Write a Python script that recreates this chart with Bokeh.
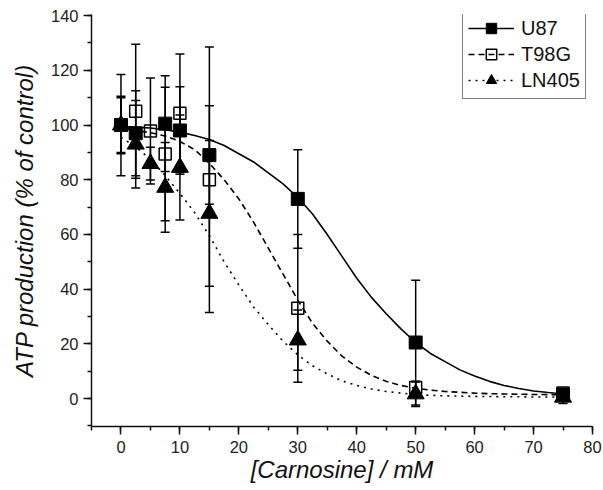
from bokeh.plotting import figure
from bokeh.models import (Range1d, SingleIntervalTicker, Whisker, TeeHead,
                          ColumnDataSource, Legend, LegendItem)
from bokeh.embed import file_html
from bokeh.resources import INLINE

conc_u87 = [0, 2.5, 7.5, 10, 15, 30, 50, 75]
atp_u87 = [100, 97, 100.5, 98, 89, 73, 20.5, 1.5]
err_u87 = [18.5, 15.5, 17.5, 16, 18, 18, 22.8, 1]

conc_t98g = [0, 2.5, 5, 7.5, 10, 15, 30, 50, 75]
atp_t98g = [100, 105, 97.8, 89.4, 104.3, 80, 33, 4.1, 2]
err_t98g = [10.5, 24.5, 19.4, 24.4, 21.7, 48.5, 27, 2, 1]

conc_ln405 = [0, 2.5, 5, 7.5, 10, 15, 30, 50, 75]
atp_ln405 = [100, 93, 85.9, 77.2, 84.5, 67.7, 21.4, 1.7, 0.5]
err_ln405 = [10, 16, 6, 16.4, 19.2, 26.6, 11, 4.6, 2.3]

# ---- fitted curves ----
curve_x = [0, 2.5, 5, 7.5, 10, 12.5, 15, 17.5, 20, 22.5, 25, 27.5, 30, 32.5,
           35, 37.5, 40, 42.5, 45, 47.5, 50, 52.5, 55, 57.5, 60, 62.5, 65,
           67.5, 70, 72.5, 75]
curve_u87 = [99.5, 99.2, 98.9, 98.3, 97.4, 96.2, 94.7, 92.5, 89.5, 86.5, 82.5,
             78.5, 73.5, 67.5, 60, 52, 44, 37, 31, 25.5, 20.5, 16.5, 13.5,
             10.5, 8.3, 6.3, 4.8, 3.7, 2.8, 2.2, 1.7]
curve_t98g = [98.5, 98, 97.2, 96, 94, 91, 86, 80, 73, 64.5, 55, 45.5, 36,
              27.5, 21, 15.5, 11.5, 8.5, 6.3, 4.8, 3.8, 3.1, 2.6, 2.3, 2,
              1.8, 1.7, 1.6, 1.5, 1.45, 1.4]
curve_ln405 = [95.5, 92, 87.5, 81.5, 75, 68, 59.5, 50, 41.5, 33.5, 27, 21, 16,
               12, 9, 6.5, 4.8, 3.5, 2.6, 2, 1.5, 1.2, 1, 0.9, 0.8, 0.75, 0.7,
               0.65, 0.6, 0.6, 0.6]

series_names = ["U87", "T98G", "LN405"]
x_label = "[Carnosine] / mM"
y_label = "ATP production (% of control)"

FONT = "Liberation Sans"
INK = "#111111"

p = figure(width=603, height=490, output_backend="svg", toolbar_location=None,
           x_range=Range1d(-5, 80), y_range=Range1d(-10.2, 140.4),
           min_border_left=91, min_border_right=11, min_border_top=14,
           min_border_bottom=64)
p.outline_line_color = None
p.grid.visible = False
p.background_fill_color = "white"
p.border_fill_color = "white"

p.xaxis.ticker = SingleIntervalTicker(interval=10, num_minor_ticks=2)
p.yaxis.ticker = SingleIntervalTicker(interval=20, num_minor_ticks=2)
for ax in (p.xaxis[0], p.yaxis[0]):
    ax.axis_line_width = 1.5
    ax.axis_line_color = INK
    ax.major_tick_out = 8
    ax.major_tick_in = 0
    ax.minor_tick_out = 4
    ax.minor_tick_in = 0
    ax.major_tick_line_width = 1.5
    ax.minor_tick_line_width = 1.5
    ax.major_tick_line_color = INK
    ax.minor_tick_line_color = INK
    ax.major_label_text_font = FONT
    ax.major_label_text_font_size = "16.5px"
    ax.major_label_text_color = "#222222"
    ax.axis_label_text_font = FONT
    ax.axis_label_text_font_style = "italic"
    ax.axis_label_text_font_size = "24px"
    ax.axis_label_text_color = "#111111"

p.xaxis.axis_label = x_label
p.yaxis.axis_label = y_label
p.xaxis.major_label_standoff = 6
p.xaxis.axis_label_standoff = 0
p.yaxis.major_label_standoff = 5
p.yaxis.axis_label_standoff = 10

# fitted curves
l1 = p.line(curve_x, curve_u87, line_color="black", line_width=1.6)
l2 = p.line(curve_x, curve_t98g, line_color="black", line_width=1.6,
            line_dash="6 4")
l3 = p.line(curve_x, curve_ln405, line_color="black", line_width=1.6,
            line_dash="2 5")

# error bars
def add_errors(xs, ys, es):
    src = ColumnDataSource(dict(
        x=xs,
        upper=[y + e for y, e in zip(ys, es)],
        lower=[y - e for y, e in zip(ys, es)]))
    w = Whisker(source=src, base="x", upper="upper", lower="lower",
                dimension="height", line_color="black", line_width=1.5,
                upper_head=TeeHead(size=9, line_width=1.5, line_color="black"),
                lower_head=TeeHead(size=9, line_width=1.5, line_color="black"))
    p.add_layout(w)

add_errors(conc_t98g, atp_t98g, err_t98g)
add_errors(conc_ln405, atp_ln405, err_ln405)
add_errors(conc_u87, atp_u87, err_u87)

# markers
m2 = p.scatter(conc_t98g, atp_t98g, marker="square", size=12,
               fill_color=None, line_color="black", line_width=1.5)
m3 = p.scatter(conc_ln405, atp_ln405, marker="triangle", size=17,
               fill_color="black", line_color="black")
m1 = p.scatter(conc_u87, atp_u87, marker="square", size=13,
               fill_color="black", line_color="black")

legend = Legend(items=[
    LegendItem(label=series_names[0], renderers=[l1, m1]),
    LegendItem(label=series_names[1], renderers=[l2, m2]),
    LegendItem(label=series_names[2], renderers=[l3, m3]),
], location=(371, 327))
legend.border_line_color = "black"
legend.border_line_width = 1.5
legend.background_fill_color = "white"
legend.background_fill_alpha = 1
legend.padding = 5
legend.spacing = 0
legend.margin = 0
legend.glyph_width = 46
legend.glyph_height = 26
legend.label_height = 20
legend.label_standoff = 7
legend.label_text_font = FONT
legend.label_text_font_size = "20px"
legend.label_text_color = "#111111"
p.add_layout(legend)

open("out.html", "w").write(file_html(p, INLINE))
